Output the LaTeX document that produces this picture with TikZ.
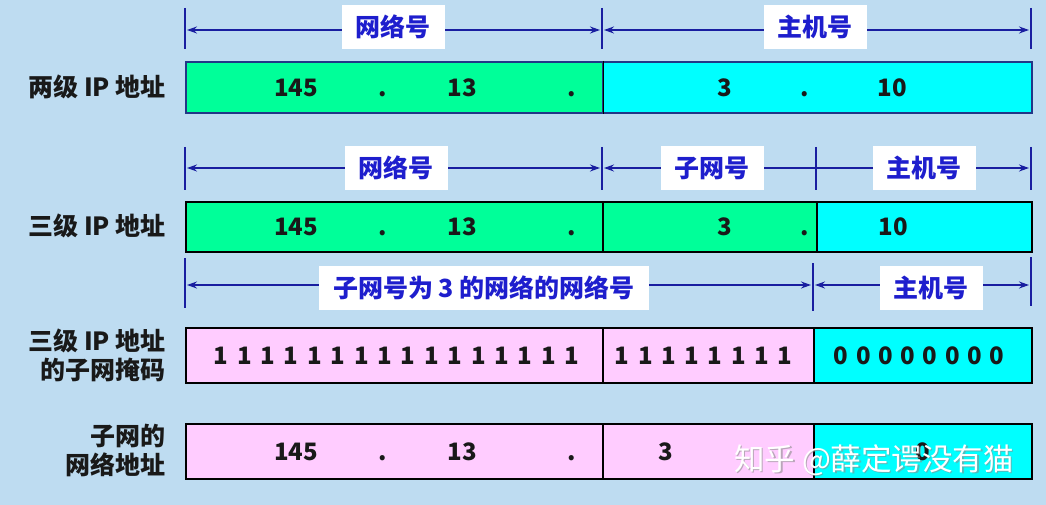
\documentclass[tikz,border=0pt]{standalone}
\usepackage{fontspec}
\setmainfont{Noto Sans CJK SC}
\usetikzlibrary{arrows.meta}
\definecolor{bg}{RGB}{190,220,241}
\definecolor{gcell}{RGB}{0,255,153}
\definecolor{ccell}{RGB}{0,255,255}
\definecolor{pcell}{RGB}{255,204,255}
\definecolor{dimblue}{RGB}{25,30,160}
\definecolor{txtblue}{RGB}{30,30,205}
\definecolor{navy}{RGB}{35,55,135}
\definecolor{ink}{RGB}{25,25,25}
\begin{document}
\begin{tikzpicture}[x=1pt,y=-1pt,
  cell/.style={draw=black, line width=1.6pt, inner sep=0pt, anchor=north west},
  num/.style={text=ink, font=\bfseries\fontsize{24}{26}\selectfont, inner sep=0pt, text height=17.3pt, text depth=0pt},
  dimline/.style={draw=dimblue, line width=1.4pt, {Stealth[length=10pt,width=7pt]}-{Stealth[length=10pt,width=7pt]}, shorten <=2pt, shorten >=2pt},
  tickline/.style={draw=dimblue, line width=2pt},
  lab/.style={fill=white, text=txtblue, font=\bfseries\fontsize{25}{28}\selectfont, minimum height=44pt, inner xsep=14pt},
  rowlab/.style={text=ink, font=\bfseries\fontsize{25}{29}\selectfont, align=right, anchor=east, inner sep=0pt},
  wm/.style={font=\fontsize{30.5}{33}\selectfont, anchor=west, inner sep=0pt}]
\fill[bg] (0,0) rectangle (1046,505);
\useasboundingbox (0,0) rectangle (1046,505);

% ---------- row 1: two-level address ----------
\foreach \x/\n in {185/a,602/b,1031/c} {
  \coordinate (t1\n u) at (\x,8); \coordinate (t1\n d) at (\x,49);
  \draw[tickline] (t1\n u) -- (t1\n d);
  \coordinate (d1\n) at (\x,30);
}
\draw[dimline] (d1a) -- (d1b);
\draw[dimline] (d1b) -- (d1c);
\node[lab] (l1a) at (393,27) {网络号};
\node[lab] (l1b) at (815,27) {主机号};

\node[cell, draw=navy, fill=gcell, minimum width=417pt, minimum height=51pt] (r1a) at (185,61) {};
\node[cell, draw=navy, fill=ccell, minimum width=429pt, minimum height=51pt] (r1b) at (602,61) {};
\draw[line width=1.6pt, black] (r1a.north east) -- (r1a.south east);
\node[rowlab] (rl1) at (166,87) {两级 IP 地址};
\node[num] (n11) at (296,88) {145};
\node[num] (n12) at (383,88) {.};
\node[num] (n13) at (462,88) {13};
\node[num] (n14) at (572,88) {.};
\node[num] (n15) at (725,88) {3};
\node[num] (n16) at (805,88) {.};
\node[num] (n17) at (892,88) {10};

% ---------- row 2: three-level address ----------
\foreach \x/\n in {185/a,602/b,816/c,1031/d} {
  \coordinate (t2\n u) at (\x,147); \coordinate (t2\n d) at (\x,190);
  \draw[tickline] (t2\n u) -- (t2\n d);
  \coordinate (d2\n) at (\x,168);
}
\draw[dimline] (d2a) -- (d2b);
\draw[dimline] (d2b) -- (d2d);
\node[lab] (l2a) at (396,168) {网络号};
\node[lab] (l2b) at (712,168) {子网号};
\node[lab] (l2c) at (924,168) {主机号};

\node[cell, fill=gcell, minimum width=417pt, minimum height=50pt] (r2a) at (185,201) {};
\node[cell, fill=gcell, minimum width=214pt, minimum height=50pt] (r2b) at (602,201) {};
\node[cell, fill=ccell, minimum width=215pt, minimum height=50pt] (r2c) at (816,201) {};
\node[rowlab] (rl2) at (166,226) {三级 IP 地址};
\node[num] (n21) at (296,227) {145};
\node[num] (n22) at (383,227) {.};
\node[num] (n23) at (462,227) {13};
\node[num] (n24) at (572,227) {.};
\node[num] (n25) at (725,227) {3};
\node[num] (n26) at (805,227) {.};
\node[num] (n27) at (893,227) {10};

% ---------- row 3: subnet mask ----------
\foreach \x/\n/\u/\d in {185/a/258/308,813/b/263/311,1031/c/257/306} {
  \coordinate (t3\n u) at (\x,\u); \coordinate (t3\n d) at (\x,\d);
  \draw[tickline] (t3\n u) -- (t3\n d);
  \coordinate (d3\n) at (\x,285);
}
\draw[dimline] (d3a) -- (d3b);
\draw[dimline] (d3b) -- (d3c);
\node[lab] (l3a) at (484,288) {子网号为 3 的网络的网络号};
\node[lab] (l3b) at (931,288) {主机号};

\node[cell, fill=pcell, minimum width=417pt, minimum height=55pt] (r3a) at (185,327) {};
\node[cell, fill=pcell, minimum width=211pt, minimum height=55pt] (r3b) at (602,327) {};
\node[cell, fill=ccell, minimum width=218pt, minimum height=55pt] (r3c) at (813,327) {};
\node[rowlab] (rl3) at (166,355) {三级 IP 地址\\的子网掩码};
\foreach \i in {0,...,15} \node[num] (m1-\i) at (221+\i*23.4,356) {1};
\foreach \i in {0,...,7} \node[num] (m2-\i) at (622+\i*23.3,356) {1};
\foreach \i in {0,...,7} \node[num] (m3-\i) at (841+\i*22.3,356) {0};

% ---------- row 4: subnet network address ----------
\node[cell, fill=pcell, minimum width=417pt, minimum height=55pt] (r4a) at (185,423) {};
\node[cell, fill=pcell, minimum width=211pt, minimum height=55pt] (r4b) at (602,423) {};
\node[cell, fill=ccell, minimum width=218pt, minimum height=55pt] (r4c) at (813,423) {};
\node[rowlab] (rl4) at (166,450) {子网的\\网络地址};
\node[num] (n41) at (296,452) {145};
\node[num] (n42) at (383,452) {.};
\node[num] (n43) at (462,452) {13};
\node[num] (n44) at (572,452) {.};
\node[num] (n45) at (666,452) {3};
\node[num] (n46) at (923,452) {0};

% ---------- watermark ----------
\node[wm, text=black!45, opacity=0.6] (wms) at (735.5,461.5) {知乎 @薛定谔没有猫};
\node[wm, text=white] (wm) at (734,460) {知乎 @薛定谔没有猫};
\end{tikzpicture}
\end{document}
